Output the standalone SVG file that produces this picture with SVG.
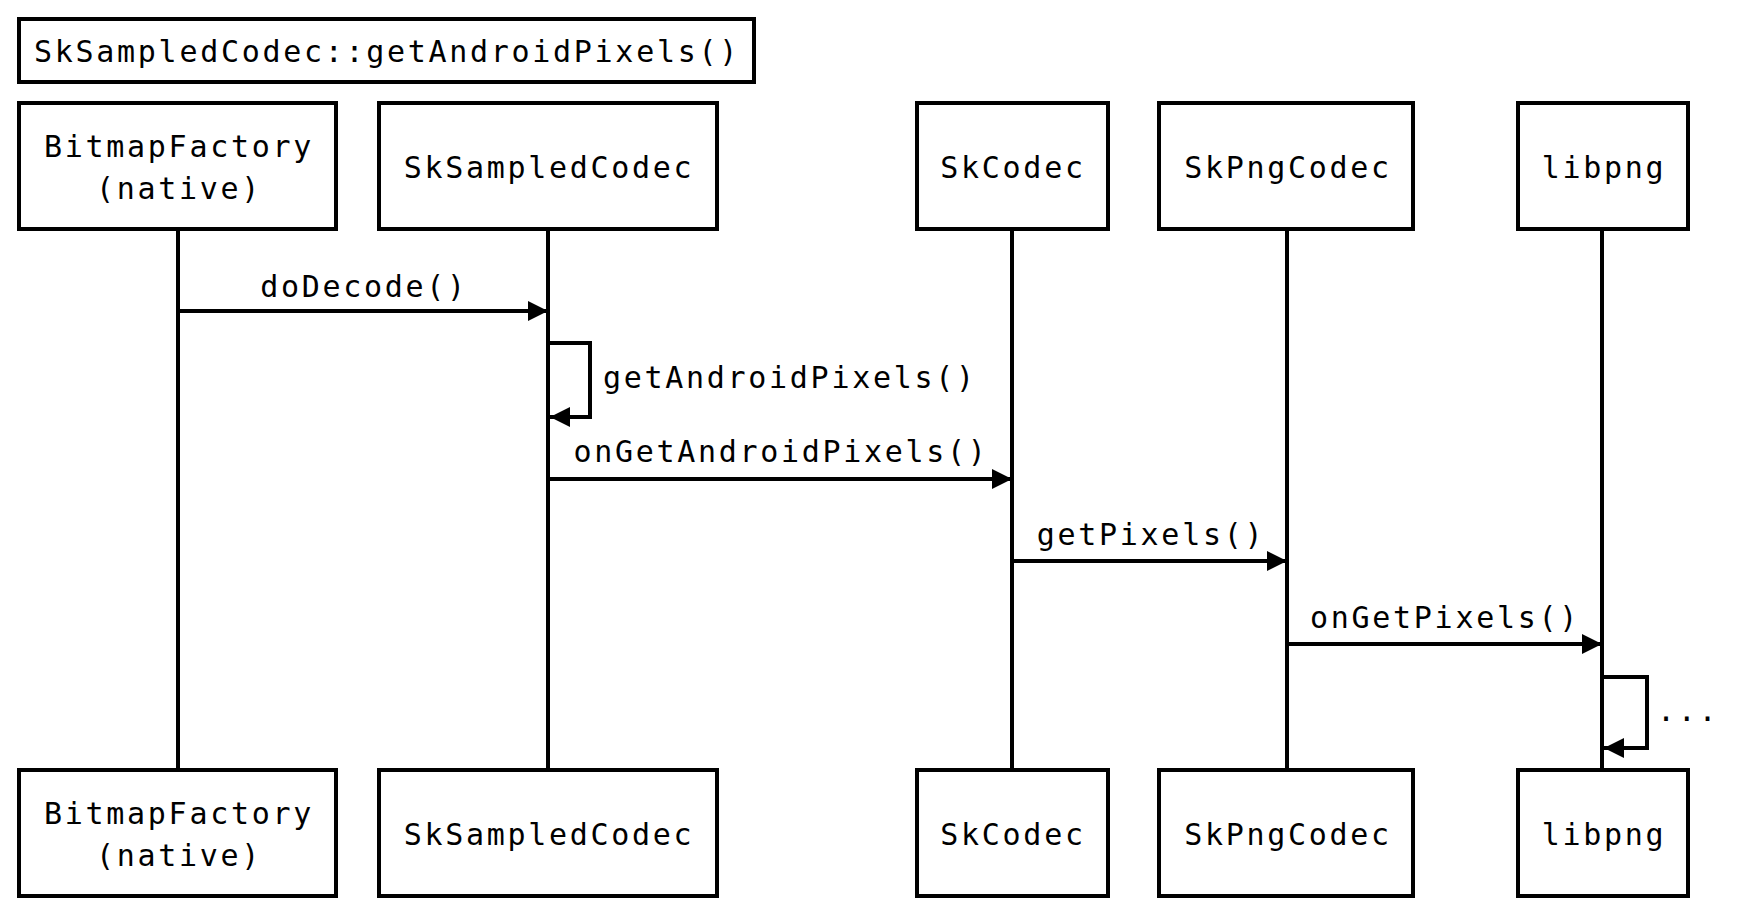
<svg xmlns="http://www.w3.org/2000/svg" width="1742" height="923" viewBox="0 0 1742 923">
<style>
.box{fill:#fff;stroke:#000;stroke-width:4}
.life{stroke:#000;stroke-width:4;fill:none}
.msg{stroke:#000;stroke-width:4;fill:none;marker-end:url(#ah)}
text{font-family:"DejaVu Sans Mono","Liberation Mono",monospace;font-size:30px;letter-spacing:2.7px;fill:#000}
.c{text-anchor:middle}
</style>
<defs>
<marker id="ah" markerUnits="userSpaceOnUse" viewBox="0 0 20 20" refX="20" refY="10" markerWidth="20" markerHeight="20" orient="auto">
<path d="M0,0 L20,10 L0,20 z" fill="#000"/>
</marker>
</defs>
<rect width="1742" height="923" fill="#fff"/>
<g id="title">
<rect class="box" x="19" y="19" width="735" height="63"/>
<text x="387" y="62" class="c">SkSampledCodec::getAndroidPixels()</text>
</g>
<g id="lifelines">
<line class="life" x1="178" y1="229" x2="178" y2="770"/>
<line class="life" x1="548" y1="229" x2="548" y2="770"/>
<line class="life" x1="1012" y1="229" x2="1012" y2="770"/>
<line class="life" x1="1287" y1="229" x2="1287" y2="770"/>
<line class="life" x1="1602" y1="229" x2="1602" y2="770"/>
</g>
<g id="BitmapFactory">
<rect class="box" x="19" y="103" width="317" height="126"/>
<text x="179" y="157" class="c">BitmapFactory</text>
<text x="179" y="199" class="c">(native)</text>
<rect class="box" x="19" y="770" width="317" height="126"/>
<text x="179" y="824" class="c">BitmapFactory</text>
<text x="179" y="866" class="c">(native)</text>
</g>
<g id="SkSampledCodec">
<rect class="box" x="379" y="103" width="338" height="126"/>
<text x="549" y="178" class="c">SkSampledCodec</text>
<rect class="box" x="379" y="770" width="338" height="126"/>
<text x="549" y="845" class="c">SkSampledCodec</text>
</g>
<g id="SkCodec">
<rect class="box" x="917" y="103" width="191" height="126"/>
<text x="1013" y="178" class="c">SkCodec</text>
<rect class="box" x="917" y="770" width="191" height="126"/>
<text x="1013" y="845" class="c">SkCodec</text>
</g>
<g id="SkPngCodec">
<rect class="box" x="1159" y="103" width="254" height="126"/>
<text x="1288" y="178" class="c">SkPngCodec</text>
<rect class="box" x="1159" y="770" width="254" height="126"/>
<text x="1288" y="845" class="c">SkPngCodec</text>
</g>
<g id="libpng">
<rect class="box" x="1518" y="103" width="170" height="126"/>
<text x="1604" y="178" class="c">libpng</text>
<rect class="box" x="1518" y="770" width="170" height="126"/>
<text x="1604" y="845" class="c">libpng</text>
</g>
<g id="connectors">
<line class="msg" x1="178" y1="311" x2="548" y2="311"/>
<text x="364" y="297" class="c">doDecode()</text>
<polyline class="msg" points="550,343 590,343 590,417 550,417"/>
<text x="603" y="388">getAndroidPixels()</text>
<line class="msg" x1="548" y1="479" x2="1012" y2="479"/>
<text x="781" y="462" class="c">onGetAndroidPixels()</text>
<line class="msg" x1="1012" y1="561" x2="1287" y2="561"/>
<text x="1151" y="545" class="c">getPixels()</text>
<line class="msg" x1="1287" y1="644" x2="1602" y2="644"/>
<text x="1445" y="628" class="c">onGetPixels()</text>
<polyline class="msg" points="1604,677 1647,677 1647,748 1604,748"/>
<text x="1657" y="721">...</text>
</g>
</svg>
